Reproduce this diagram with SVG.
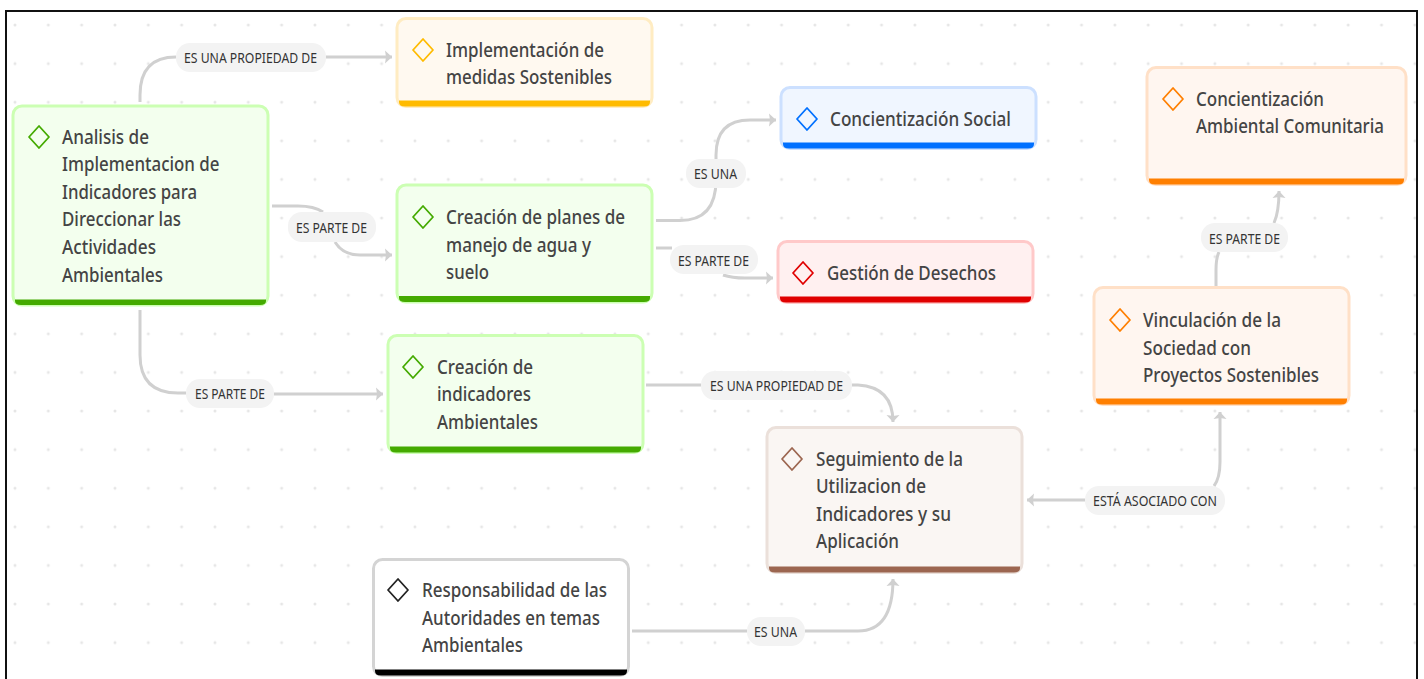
<svg xmlns="http://www.w3.org/2000/svg" width="1424" height="679" viewBox="0 0 1424 679">
<style>
.t{font-family:"Noto Sans","Open Sans","Liberation Sans",sans-serif;font-size:20px;font-weight:500;fill:#444;}
.l{font-family:"Noto Sans","Open Sans","Liberation Sans",sans-serif;font-size:15px;fill:#333;dominant-baseline:central;}
.c{fill:none;stroke:#d0d0d0;stroke-width:3;}
.a{marker-end:url(#arrow);}
.p{fill:#f3f3f3;}
.box{stroke-width:3;}
.d{fill:none;stroke-width:1.8;stroke-linejoin:round;}
.green .box{fill:#f3ffee;stroke:#ccffb3;}.green .bar{fill:#44aa00;}.green .d{stroke:#44aa00;}
.yellow .box{fill:#fff9f0;stroke:#ffecc2;}.yellow .bar{fill:#ffbb00;}.yellow .d{stroke:#ffbb00;}
.blue .box{fill:#f0f6ff;stroke:#cce0ff;}.blue .bar{fill:#0070ff;}.blue .d{stroke:#0070ff;}
.red .box{fill:#fff0f0;stroke:#ffc9c9;}.red .bar{fill:#e00000;}.red .d{stroke:#e00000;}
.orange .box{fill:#fff6f0;stroke:#ffe0c7;}.orange .bar{fill:#ff7f00;}.orange .d{stroke:#ff7f00;}
.brown .box{fill:#faf6f3;stroke:#ebe0da;}.brown .bar{fill:#9c6650;}.brown .d{stroke:#9c6650;}
.black .box{fill:#fff;stroke:#d4d4d4;}.black .bar{fill:#000;}.black .d{stroke:#222;}
</style>
<defs>
<pattern id="dots" x="15" y="25" width="33.33" height="38.6" patternUnits="userSpaceOnUse"><circle cx="0" cy="0" r="1.5" fill="#e6e6e6"/><circle cx="33.33" cy="0" r="1.5" fill="#e6e6e6"/><circle cx="0" cy="38.6" r="1.5" fill="#e6e6e6"/><circle cx="33.33" cy="38.6" r="1.5" fill="#e6e6e6"/></pattern>
<marker id="arrow" markerUnits="userSpaceOnUse" markerWidth="10" markerHeight="14" refX="7" refY="7" orient="auto"><path d="M0 0.500L7 7L0 13.500L1 7Z" fill="#d0d0d0"/></marker>
<path id="dm" d="M0 -11L10 0L0 11L-10 0Z"/>
</defs>
<rect width="1424" height="679" fill="#fff"/>
<rect x="6" y="11" width="1411" height="668" fill="url(#dots)"/>
<path d="M6 679V11H1417V679" fill="none" stroke="#111" stroke-width="2"/>
<g id="connectors">
<path class="c" d="M140 102V95Q140 57 176 57"/>
<path class="c a" d="M326 57H392"/>
<path class="c" d="M272 206H298Q314 206 323 212"/>
<path class="c a" d="M335 242Q343 255 360 255H392"/>
<path class="c" d="M656 220.500H680Q716 220.500 716 180V159"/>
<path class="c a" d="M716 159V155Q716 120 750 120H776"/>
<path class="c" d="M656 248H672"/>
<path class="c a" d="M723 275Q732 278 745 278H773"/>
<path class="c" d="M140 310V355Q140 393 178 393H186"/>
<path class="c a" d="M274 394H383"/>
<path class="c" d="M646 385H701"/>
<path class="c a" d="M852 385H858Q893 387 893 422"/>
<path class="c a" d="M1085 500H1027"/>
<path class="c a" d="M1214 486Q1220 478 1220 462V412"/>
<path class="c" d="M632 631H747"/>
<path class="c a" d="M805 631H858Q893 631 893 579"/>
<path class="c" d="M1216 286V270Q1216 258 1219 252"/>
<path class="c a" d="M1274 223Q1279 212 1279 191"/>
</g>
<g id="edge-labels">
<rect class="p" x="176" y="43" width="150" height="29" rx="14"/><text class="l" x="184" y="57" textLength="133" lengthAdjust="spacingAndGlyphs">ES UNA PROPIEDAD DE</text>
<rect class="p" x="288" y="212" width="88" height="30" rx="14"/><text class="l" x="296" y="226.500" textLength="71" lengthAdjust="spacingAndGlyphs">ES PARTE DE</text>
<rect class="p" x="686" y="159" width="60" height="29" rx="14"/><text class="l" x="694" y="173" textLength="43" lengthAdjust="spacingAndGlyphs">ES UNA</text>
<rect class="p" x="670" y="245" width="88" height="29" rx="14"/><text class="l" x="678" y="260" textLength="71" lengthAdjust="spacingAndGlyphs">ES PARTE DE</text>
<rect class="p" x="186" y="379" width="88" height="29" rx="14"/><text class="l" x="195" y="393" textLength="70" lengthAdjust="spacingAndGlyphs">ES PARTE DE</text>
<rect class="p" x="701" y="371" width="151" height="29" rx="14"/><text class="l" x="710" y="385" textLength="133" lengthAdjust="spacingAndGlyphs">ES UNA PROPIEDAD DE</text>
<rect class="p" x="1085" y="486" width="140" height="29" rx="14"/><text class="l" x="1093" y="500" textLength="124" lengthAdjust="spacingAndGlyphs">ESTÁ ASOCIADO CON</text>
<rect class="p" x="747" y="617" width="58" height="29" rx="14"/><text class="l" x="754" y="631" textLength="43" lengthAdjust="spacingAndGlyphs">ES UNA</text>
<rect class="p" x="1201" y="223" width="87" height="29" rx="14"/><text class="l" x="1209" y="238" textLength="71" lengthAdjust="spacingAndGlyphs">ES PARTE DE</text>
</g>
<g id="n1" class="green"><rect class="box" x="13" y="106" width="255" height="199" rx="9"/><path class="bar" d="M15 299.500H266V301Q266 305 260 305H21Q15 305 15 301Z"/><use class="d" href="#dm" x="39" y="137"/>
<text class="t" x="62" y="143.500" textLength="87" lengthAdjust="spacingAndGlyphs">Analisis de</text><text class="t" x="62" y="171" textLength="157.500" lengthAdjust="spacingAndGlyphs">Implementacion de</text><text class="t" x="62" y="198.500" textLength="135" lengthAdjust="spacingAndGlyphs">Indicadores para</text><text class="t" x="62" y="226" textLength="119" lengthAdjust="spacingAndGlyphs">Direccionar las</text><text class="t" x="62" y="254" textLength="94" lengthAdjust="spacingAndGlyphs">Actividades</text><text class="t" x="62" y="281.500" textLength="101" lengthAdjust="spacingAndGlyphs">Ambientales</text></g>
<g id="n2" class="yellow"><rect class="box" x="397" y="18.500" width="255" height="88" rx="9"/><path class="bar" d="M399 100.500H650V102Q650 106.500 644 106.500H405Q399 106.500 399 102Z"/><use class="d" href="#dm" x="423" y="50"/>
<text class="t" x="446" y="56.500" textLength="158" lengthAdjust="spacingAndGlyphs">Implementación de</text><text class="t" x="446" y="84" textLength="166" lengthAdjust="spacingAndGlyphs">medidas Sostenibles</text></g>
<g id="n3" class="green"><rect class="box" x="397" y="185" width="255" height="117" rx="9"/><path class="bar" d="M399 296H650V298Q650 302 644 302H405Q399 302 399 298Z"/><use class="d" href="#dm" x="423" y="217"/>
<text class="t" x="446" y="223.500" textLength="179" lengthAdjust="spacingAndGlyphs">Creación de planes de</text><text class="t" x="446" y="251.500" textLength="145" lengthAdjust="spacingAndGlyphs">manejo de agua y</text><text class="t" x="446" y="279" textLength="43" lengthAdjust="spacingAndGlyphs">suelo</text></g>
<g id="n4" class="blue"><rect class="box" x="781" y="87.500" width="255" height="61" rx="9"/><path class="bar" d="M783 142.500H1034V144Q1034 148.500 1028 148.500H789Q783 148.500 783 144Z"/><use class="d" href="#dm" x="807" y="119"/>
<text class="t" x="830" y="125.500" textLength="181" lengthAdjust="spacingAndGlyphs">Concientización Social</text></g>
<g id="n5" class="red"><rect class="box" x="778" y="241.500" width="255" height="61" rx="9"/><path class="bar" d="M780 296.500H1031V298Q1031 302.500 1025 302.500H786Q780 302.500 780 298Z"/><use class="d" href="#dm" x="803" y="273"/>
<text class="t" x="827" y="279.500" textLength="169" lengthAdjust="spacingAndGlyphs">Gestión de Desechos</text></g>
<g id="n6" class="orange"><rect class="box" x="1147" y="67.500" width="259" height="117" rx="9"/><path class="bar" d="M1149 178.500H1404V180Q1404 184.500 1398 184.500H1155Q1149 184.500 1149 180Z"/><use class="d" href="#dm" x="1173" y="99"/>
<text class="t" x="1196" y="105.500" textLength="128" lengthAdjust="spacingAndGlyphs">Concientización</text><text class="t" x="1196" y="133" textLength="188" lengthAdjust="spacingAndGlyphs">Ambiental Comunitaria</text></g>
<g id="n7" class="orange"><rect class="box" x="1094" y="287.500" width="255" height="117" rx="9"/><path class="bar" d="M1096 398.500H1347V400Q1347 404.500 1341 404.500H1102Q1096 404.500 1096 400Z"/><use class="d" href="#dm" x="1120" y="320"/>
<text class="t" x="1143" y="326.500" textLength="138" lengthAdjust="spacingAndGlyphs">Vinculación de la</text><text class="t" x="1143" y="354.500" textLength="108" lengthAdjust="spacingAndGlyphs">Sociedad con</text><text class="t" x="1143" y="382" textLength="176" lengthAdjust="spacingAndGlyphs">Proyectos Sostenibles</text></g>
<g id="n8" class="green"><rect class="box" x="388" y="335.500" width="255" height="117" rx="9"/><path class="bar" d="M390 446.500H641V448Q641 452.500 635 452.500H396Q390 452.500 390 448Z"/><use class="d" href="#dm" x="413" y="367"/>
<text class="t" x="437" y="373.500" textLength="96" lengthAdjust="spacingAndGlyphs">Creación de</text><text class="t" x="437" y="401" textLength="94" lengthAdjust="spacingAndGlyphs">indicadores</text><text class="t" x="437" y="428.500" textLength="101" lengthAdjust="spacingAndGlyphs">Ambientales</text></g>
<g id="n9" class="brown"><rect class="box" x="767" y="427.500" width="255" height="145" rx="9"/><path class="bar" d="M769 566.500H1020V568Q1020 572.500 1014 572.500H775Q769 572.500 769 568Z"/><use class="d" href="#dm" x="792" y="459"/>
<text class="t" x="816" y="465.500" textLength="147" lengthAdjust="spacingAndGlyphs">Seguimiento de la</text><text class="t" x="816" y="493" textLength="110" lengthAdjust="spacingAndGlyphs">Utilizacion de</text><text class="t" x="816" y="520.500" textLength="135" lengthAdjust="spacingAndGlyphs">Indicadores y su</text><text class="t" x="816" y="548" textLength="83" lengthAdjust="spacingAndGlyphs">Aplicación</text></g>
<g id="n10" class="black"><rect class="box" x="373.500" y="559.500" width="255" height="116" rx="9"/><path class="bar" d="M375 669.500H627V671Q627 675.500 621 675.500H381Q375 675.500 375 671Z"/><use class="d" href="#dm" x="398" y="590"/>
<text class="t" x="422" y="596.500" textLength="185" lengthAdjust="spacingAndGlyphs">Responsabilidad de las</text><text class="t" x="422" y="624.500" textLength="178" lengthAdjust="spacingAndGlyphs">Autoridades en temas</text><text class="t" x="422" y="652" textLength="101" lengthAdjust="spacingAndGlyphs">Ambientales</text></g>
</svg>
